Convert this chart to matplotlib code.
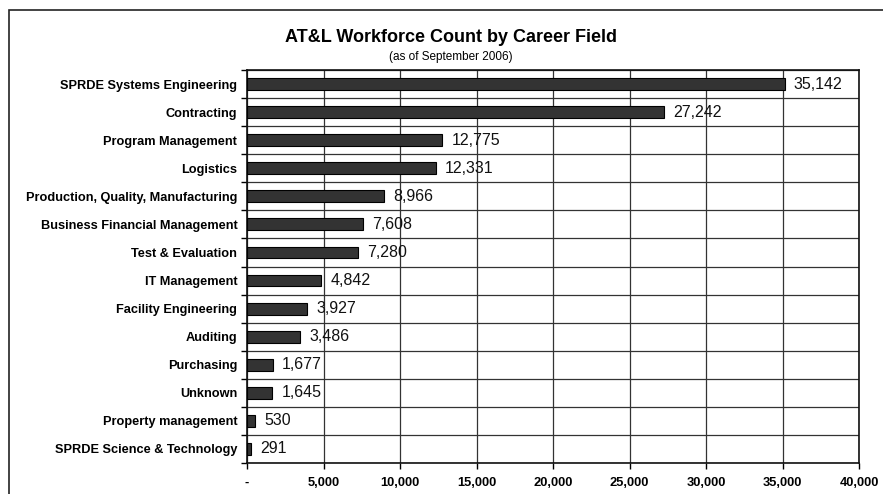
import numpy as np
import matplotlib.pyplot as plt
from matplotlib.patches import Rectangle

fields = ["SPRDE Systems Engineering", "Contracting", "Program Management", "Logistics",
          "Production, Quality, Manufacturing", "Business Financial Management",
          "Test & Evaluation", "IT Management", "Facility Engineering", "Auditing",
          "Purchasing", "Unknown", "Property management", "SPRDE Science & Technology"]
counts = [35142, 27242, 12775, 12331, 8966, 7608, 7280, 4842, 3927, 3486, 1677, 1645, 530, 291]
xticks = [0, 5000, 10000, 15000, 20000, 25000, 30000, 35000, 40000]
xlabels = ["-", "5,000", "10,000", "15,000", "20,000", "25,000", "30,000", "35,000", "40,000"]

plt.rcParams['font.family'] = ["Liberation Sans", "DejaVu Sans"]

fig = plt.figure(figsize=(8.83, 4.94), dpi=100)
# outer frame of the chart (open at right and bottom, cut by the image edge)
fig.patches.append(Rectangle((9/883, -0.1), 1.0, 1 - 10/494 + 0.1, transform=fig.transFigure,
                             fill=False, edgecolor='#222222', linewidth=1.2))

ax = fig.add_axes([247/883, 1 - 463/494, (859 - 247)/883, (463 - 70)/494])
n = len(fields)
y = np.arange(n)
ax.barh(y, counts, height=0.42, color='#333333', edgecolor='black', linewidth=0.8, zorder=3)
for yi, c in zip(y, counts):
    ax.text(c + 600, yi, f"{c:,}", va='center', ha='left', fontsize=11.5,
            color='#111111', zorder=4)

ax.set_xlim(0, 40000)
ax.set_ylim(n - 0.5, -0.5)
ax.set_xticks(xticks)
ax.set_xticklabels(xlabels, fontsize=9.3, fontweight='bold')
ax.set_yticks(y)
ax.set_yticklabels(fields, fontsize=9.2, fontweight='bold')
ax.set_yticks(np.arange(n + 1) - 0.5, minor=True)
ax.tick_params(axis='y', which='major', length=0, pad=7)
ax.tick_params(axis='y', which='minor', length=4, direction='out', width=1)
ax.tick_params(axis='x', length=4, direction='out', width=1, pad=6)
ax.grid(axis='x', color='#333333', linewidth=0.9, zorder=0)
ax.grid(axis='y', which='minor', color='#333333', linewidth=0.9, zorder=0)
for s in ax.spines.values():
    s.set_linewidth(1.2)
    s.set_color('#111111')

fig.text(451/883, 1 - 37/494, "AT&L Workforce Count by Career Field", ha='center', va='center',
         fontsize=13, fontweight='bold')
fig.text(451/883, 1 - 57/494, "(as of September 2006)", ha='center', va='center',
         fontsize=8.5)

fig.savefig("out.png", dpi=100)
